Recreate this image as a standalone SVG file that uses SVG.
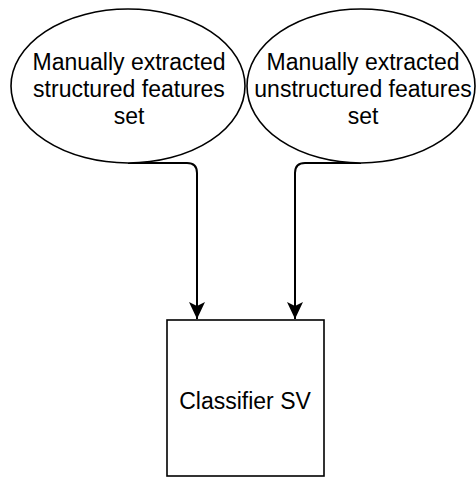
<svg xmlns="http://www.w3.org/2000/svg" width="476" height="478" viewBox="0 0 476 478">
<style>
.shape{fill:#fff;stroke:#000;stroke-width:1.6}
.edge{fill:none;stroke:#000;stroke-width:2}
.lbl{font-family:"Liberation Sans",Arial,sans-serif;font-size:23px;fill:#000;text-anchor:middle}
</style>
<defs>
<marker id="arr" markerUnits="userSpaceOnUse" markerWidth="18" markerHeight="18" viewBox="0 0 18 18" refX="17" refY="9" orient="auto">
<path d="M0,1 L17,9 L0,17 L4,9 Z" fill="#000"/>
</marker>
</defs>
<rect width="476" height="478" fill="#fff"/>
<g id="connectors">
<path class="edge" d="M128,163 H187 Q197,163 197,173 V319" marker-end="url(#arr)"/>
<path class="edge" d="M361,163 H305 Q295,163 295,173 V319" marker-end="url(#arr)"/>
</g>
<g id="structured">
<ellipse class="shape" cx="128" cy="86" rx="117" ry="77"/>
<text class="lbl" x="129" y="70">Manually extracted</text>
<text class="lbl" x="129" y="97">structured features</text>
<text class="lbl" x="129" y="124">set</text>
</g>
<g id="unstructured">
<ellipse class="shape" cx="361" cy="86" rx="114" ry="77"/>
<text class="lbl" x="363" y="70">Manually extracted</text>
<text class="lbl" x="363" y="97">unstructured features</text>
<text class="lbl" x="363" y="124">set</text>
</g>
<g id="classifier">
<rect class="shape" x="167" y="320" width="157" height="156"/>
<text class="lbl" x="245" y="409">Classifier SV</text>
</g>
</svg>
